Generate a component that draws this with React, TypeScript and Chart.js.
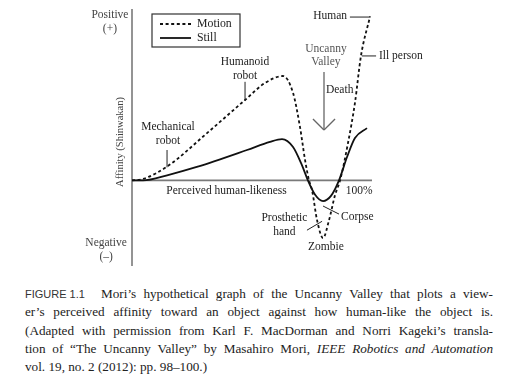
import React, { useEffect, useRef } from "react";
import { Chart, registerables } from "chart.js";

Chart.register(...registerables);

// Perceived human-likeness (0..100 %) and affinity values
const stillX = [0, 4.6, 15, 27, 47.9, 57.5, 62.5, 67.1, 70.8, 73.3, 76.3, 79.6, 82.9, 86.25, 89.6, 92.9, 97.9];
const stillY = [0, 0, 3.1, 7.8, 17.7, 22.5, 24.1, 19.5, 8.9, 0, -8.4, -12.1, -9.1, 0, 13.6, 24.7, 30.5];

const motionX = [0, 4.6, 15, 30.8, 47.1, 55.4, 62.9, 67.1, 70, 72.1, 73.75, 75, 77.1, 79.6, 82.1, 84.6, 86.7, 90, 92.9, 95.4, 99.2];
const motionY = [0, 0.8, 8.4, 27, 46.9, 56.8, 60.9, 51, 31.1, 11.9, 0, -5.6, -23.2, -33.7, -23.2, -8.6, 0, 21.8, 45.2, 72.6, 95.7];

const seriesNames = ["Motion", "Still"];

const captionLines = [
  "Mori\u2019s hypothetical graph of the Uncanny Valley that plots a view-",
  "er\u2019s perceived affinity toward an object against how human-like the object is.",
  "(Adapted with permission from Karl F. MacDorman and Norri Kageki\u2019s transla-",
  "tion of \u201CThe Uncanny Valley\u201D by Masahiro Mori, ",
  "vol. 19, no. 2 (2012): pp. 98\u2013100.)",
];
const figureLabel = "FIGURE 1.1";
const italicSource = "IEEE Robotics and Automation";

const SERIF = "'Liberation Serif', 'Times New Roman', serif";

type Txt = { t: string; x: number; y: number; align?: CanvasTextAlign; color?: string; size?: number; rot?: boolean };
type Seg = { x1: number; y1: number; x2: number; y2: number; color?: string; w?: number };

// annotation layout in data units
const labels: Txt[] = [
  { t: "Positive", x: -9.2, y: 96.5, color: "#444" },
  { t: "(+)", x: -9.2, y: 88.3, color: "#444" },
  { t: "Negative", x: -10.8, y: -36.6, color: "#444" },
  { t: "(\u2013)", x: -10.8, y: -44.7, color: "#444" },
  { t: "Affinity (Shinwakan)", x: -5, y: 22.4, rot: true, color: "#444", size: 10.5 },
  { t: "Perceived human-likeness", x: 39.4, y: -6.2 },
  { t: "100%", x: 94.6, y: -6.2 },
  { t: "Mechanical", x: 15, y: 31.1 },
  { t: "robot", x: 15, y: 22.9 },
  { t: "Humanoid", x: 47.1, y: 69.1 },
  { t: "robot", x: 47.1, y: 60.9 },
  { t: "Human", x: 89.6, y: 95.9, align: "right" },
  { t: "Uncanny", x: 80.8, y: 76.7, color: "#555" },
  { t: "Valley", x: 80.8, y: 69.1, color: "#555" },
  { t: "Death", x: 80.8, y: 52.7, align: "left" },
  { t: "Ill person", x: 102.9, y: 72.6, align: "left" },
  { t: "Prosthetic", x: 63.5, y: -22 },
  { t: "hand", x: 63.5, y: -30.2 },
  { t: "Corpse", x: 87.1, y: -21.4, align: "left" },
  { t: "Zombie", x: 80.8, y: -38.9 },
];

const segs: Seg[] = [
  { x1: 14.6, y1: 17.7, x2: 14.6, y2: 7.6 },
  { x1: 47.1, y1: 57.5, x2: 47.1, y2: 46.3 },
  { x1: 90.8, y1: 95.3, x2: 99.2, y2: 95.3 },
  { x1: 95.8, y1: 72.6, x2: 101.7, y2: 72.6 },
  { x1: 72.9, y1: -29.1, x2: 79.2, y2: -23.9 },
  { x1: 79.6, y1: -15.0, x2: 86.25, y2: -19.7 },
  { x1: 80, y1: 63.2, x2: 80, y2: 29.4, color: "#666", w: 1.3 },
  { x1: 75.4, y1: 35.8, x2: 80, y2: 29.4, color: "#666", w: 1.3 },
  { x1: 84.6, y1: 35.8, x2: 80, y2: 29.4, color: "#666", w: 1.3 },
];

const overlay = {
  id: "overlay",
  beforeDatasetsDraw(chart: any) {
    const { ctx, chartArea, scales } = chart;
    const x0 = scales.x.getPixelForValue(0);
    const y0 = scales.y.getPixelForValue(0);
    ctx.save();
    ctx.strokeStyle = "#7a7a7a";
    ctx.lineWidth = 1.6;
    ctx.beginPath();
    ctx.moveTo(x0, chartArea.top);
    ctx.lineTo(x0, chartArea.bottom);
    ctx.moveTo(x0, y0);
    ctx.lineTo(chartArea.right, y0);
    ctx.stroke();
    ctx.restore();
  },
  afterDatasetsDraw(chart: any) {
    const { ctx, scales } = chart;
    const px = (v: number) => scales.x.getPixelForValue(v);
    const py = (v: number) => scales.y.getPixelForValue(v);
    ctx.save();
    for (const s of segs) {
      ctx.strokeStyle = s.color || "#222";
      ctx.lineWidth = s.w || 1;
      ctx.beginPath();
      ctx.moveTo(px(s.x1), py(s.y1));
      ctx.lineTo(px(s.x2), py(s.y2));
      ctx.stroke();
    }
    ctx.textBaseline = "middle";
    for (const l of labels) {
      ctx.fillStyle = l.color || "#222";
      ctx.font = `${l.size || 11.5}px ${SERIF}`;
      ctx.textAlign = l.align || "center";
      if (l.rot) {
        ctx.save();
        ctx.translate(px(l.x), py(l.y));
        ctx.rotate(-Math.PI / 2);
        ctx.fillText(l.t, 0, 0);
        ctx.restore();
      } else {
        ctx.fillText(l.t, px(l.x), py(l.y));
      }
    }
    // legend box
    const bx = 152, by = 14, bw = 88, bh = 33;
    ctx.strokeStyle = "#333";
    ctx.lineWidth = 1.2;
    ctx.strokeRect(bx, by, bw, bh);
    const ds = chart.data.datasets;
    ds.forEach((d: any, i: number) => {
      const yy = by + 10 + i * 14;
      ctx.strokeStyle = d.borderColor;
      ctx.lineWidth = d.borderWidth;
      ctx.setLineDash(d.borderDash || []);
      ctx.beginPath();
      ctx.moveTo(bx + 8, yy);
      ctx.lineTo(bx + 39, yy);
      ctx.stroke();
      ctx.setLineDash([]);
      ctx.fillStyle = "#222";
      ctx.font = `11.8px ${SERIF}`;
      ctx.textAlign = "left";
      ctx.fillText(d.label, bx + 45, yy);
    });
    ctx.restore();
  },
};

function ChartView() {
  const ref = useRef<HTMLCanvasElement | null>(null);
  useEffect(() => {
    if (!ref.current) return;
    const chart = new Chart(ref.current, {
      type: "line",
      data: {
        datasets: [
          {
            label: seriesNames[0],
            data: motionX.map((x, i) => ({ x, y: motionY[i] })),
            borderColor: "#111",
            borderWidth: 1.8,
            borderDash: [3, 2.6],
            pointRadius: 0,
            cubicInterpolationMode: "monotone",
            fill: false,
          },
          {
            label: seriesNames[1],
            data: stillX.map((x, i) => ({ x, y: stillY[i] })),
            borderColor: "#111",
            borderWidth: 1.8,
            pointRadius: 0,
            cubicInterpolationMode: "monotone",
            fill: false,
          },
        ],
      },
      options: {
        animation: false,
        responsive: false,
        devicePixelRatio: 1,
        layout: { padding: { left: 132, right: 140, top: 9, bottom: 14 } },
        plugins: { legend: { display: false }, tooltip: { enabled: false } },
        scales: {
          x: { type: "linear", min: 0, max: 100, display: false },
          y: { type: "linear", min: -50, max: 100, display: false },
        },
      },
      plugins: [overlay],
    });
    return () => chart.destroy();
  }, []);
  return <canvas ref={ref} width={512} height={280} style={{ position: "absolute", left: 0, top: 0 }} />;
}

export default function App() {
  return (
    <div style={{ position: "fixed", left: 0, top: 0, width: 512, height: 389, background: "#fff", overflow: "hidden" }}>
      <ChartView />
      <div
        style={{
          position: "absolute",
          left: 25,
          top: 285,
          width: 468,
          fontFamily: SERIF,
          fontSize: 13.2,
          lineHeight: "18.3px",
          color: "#222",
        }}
      >
        {captionLines.map((ln, i) => (
          <div
            key={i}
            style={{
              textAlign: "justify",
              textAlignLast: i === captionLines.length - 1 ? "left" : "justify",
              whiteSpace: "nowrap",
            } as any}
          >
            {i === 0 && (
              <span
                style={{
                  display: "inline-block",
                  width: 76,
                  textAlign: "left",
                  textAlignLast: "left",
                  fontFamily: "'Liberation Sans', sans-serif",
                  fontSize: 11,
                  color: "#333",
                } as any}
              >
                {figureLabel}
              </span>
            )}
            {ln}
            {i === 3 && <i>{italicSource}</i>}
          </div>
        ))}
      </div>
    </div>
  );
}
